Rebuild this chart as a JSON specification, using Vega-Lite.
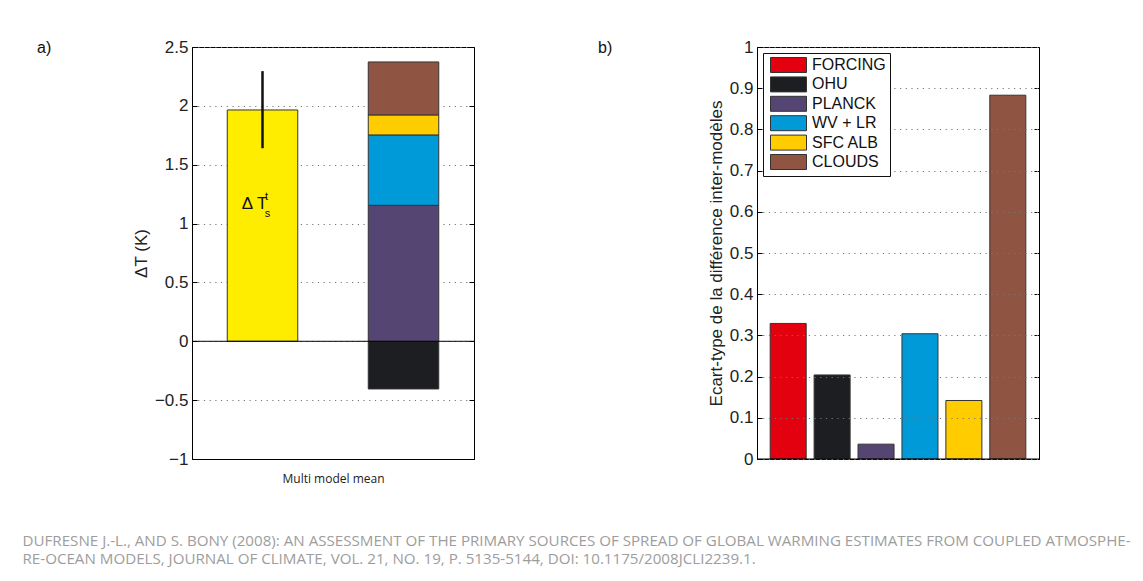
{
  "$schema": "https://vega.github.io/schema/vega-lite/v6.json",
  "background": "white",
  "padding": {"left": 22, "top": 37, "right": 5, "bottom": 5},
  "datasets": {
    "total": [{"group": "ΔTs", "value": 1.965, "low": 1.64, "high": 2.295}],
    "decomp": [
      {"group": "Somme", "component": "OHU", "value": -0.405},
      {"group": "Somme", "component": "PLANCK", "value": 1.155},
      {"group": "Somme", "component": "WV + LR", "value": 0.598},
      {"group": "Somme", "component": "SFC ALB", "value": 0.17},
      {"group": "Somme", "component": "CLOUDS", "value": 0.45}
    ],
    "spread": [
      {"component": "FORCING", "value": 0.329},
      {"component": "OHU", "value": 0.204},
      {"component": "PLANCK", "value": 0.036},
      {"component": "WV + LR", "value": 0.304},
      {"component": "SFC ALB", "value": 0.142},
      {"component": "CLOUDS", "value": 0.883}
    ]
  },
  "title": {
    "text": ["DUFRESNE J.-L., AND S. BONY (2008): AN ASSESSMENT OF THE PRIMARY SOURCES OF SPREAD OF GLOBAL WARMING ESTIMATES FROM COUPLED ATMOSPHE-", "RE-OCEAN MODELS, JOURNAL OF CLIMATE, VOL. 21, NO. 19, P. 5135-5144, DOI: 10.1175/2008JCLI2239.1."],
    "orient": "bottom", "anchor": "start", "frame": "bounds",
    "font": "Open Sans", "fontSize": 15.15, "fontWeight": "normal", "color": "#9d9d9d",
    "lineHeight": 18, "offset": 49, "dx": -14
  },
  "spacing": 122,
  "resolve": {"scale": {"color": "independent"}, "legend": {"color": "independent"}},
  "hconcat": [
    {
      "width": 282, "height": 412,
      "title": {"text": "a)", "anchor": "start", "frame": "group", "dx": -155, "dy": 26, "baseline": "middle", "offset": 0, "fontSize": 16, "fontWeight": "normal", "font": "Liberation Sans", "color": "#111"},
      "resolve": {"axis": {"y": "independent"}},
      "layer": [
        {
          "data": {"name": "total"},
          "mark": {"type": "bar", "color": "#ffed00", "stroke": "#333", "strokeWidth": 1},
          "encoding": {
            "x": {"field": "group", "type": "nominal", "scale": {"domain": ["ΔTs", "Somme"], "paddingInner": 0.5, "paddingOuter": 0.25},
                  "axis": {"labels": false, "ticks": false, "title": "Multi model mean", "titleFont": "Open Sans", "titleFontSize": 12, "titlePadding": 14, "domainColor": "black"}},
            "y": {"field": "value", "type": "quantitative", "title": "ΔT (K)",
                  "scale": {"domain": [-1, 2.5], "nice": false, "zero": false},
                  "axis": {"values": [-1, -0.5, 0, 0.5, 1, 1.5, 2, 2.5], "format": "~g", "grid": true, "titlePadding": 4, "zindex": 0}}
          }
        },
        {
          "data": {"name": "decomp"},
          "mark": {"type": "bar", "stroke": "#333", "strokeWidth": 1},
          "encoding": {
            "x": {"field": "group", "type": "nominal"},
            "y": {"field": "value", "type": "quantitative", "stack": "zero", "axis": null},
            "order": {"field": "group"},
            "color": {"field": "component", "type": "nominal",
                      "sort": ["FORCING", "OHU", "PLANCK", "WV + LR", "SFC ALB", "CLOUDS"],
                      "scale": {"domain": ["FORCING", "OHU", "PLANCK", "WV + LR", "SFC ALB", "CLOUDS"], "range": ["#e3000f", "#1d1e22", "#554573", "#009ad9", "#ffcc00", "#8f5442"]},
                      "legend": null}
          }
        },
        {
          "data": {"name": "total"},
          "mark": {"type": "rule", "color": "#111", "strokeWidth": 2.5},
          "encoding": {
            "x": {"field": "group", "type": "nominal"},
            "y": {"field": "low", "type": "quantitative", "axis": null},
            "y2": {"field": "high"}
          }
        },
        {
          "data": {"values": [{}]},
          "mark": {"type": "rule", "color": "black", "strokeWidth": 1},
          "encoding": {"y": {"datum": 0, "type": "quantitative",
                             "axis": {"orient": "right", "values": [-1, -0.5, 0, 0.5, 1, 1.5, 2, 2.5], "labels": false, "grid": false, "domain": false, "title": null, "tickSize": -5}}}
        },
        {
          "data": {"name": "total"},
          "mark": {"type": "text", "text": "Δ T", "font": "Liberation Sans", "fontSize": 17, "align": "center", "baseline": "middle", "dx": -8, "color": "#111"},
          "encoding": {"x": {"field": "group", "type": "nominal"}, "y": {"datum": 1.166, "type": "quantitative", "axis": null}}
        },
        {
          "data": {"name": "total"},
          "mark": {"type": "text", "text": "t", "font": "Liberation Sans", "fontSize": 11, "align": "center", "baseline": "middle", "dx": 4, "dy": -7, "color": "#111"},
          "encoding": {"x": {"field": "group", "type": "nominal"}, "y": {"datum": 1.166, "type": "quantitative", "axis": null}}
        },
        {
          "data": {"name": "total"},
          "mark": {"type": "text", "text": "s", "font": "Liberation Sans", "fontSize": 11, "align": "center", "baseline": "middle", "dx": 5, "dy": 10, "color": "#111"},
          "encoding": {"x": {"field": "group", "type": "nominal"}, "y": {"datum": 1.166, "type": "quantitative", "axis": null}}
        }
      ]
    },
    {
      "width": 282, "height": 412,
      "title": {"text": "b)", "anchor": "start", "frame": "group", "dx": -159, "dy": 26, "baseline": "middle", "offset": 0, "fontSize": 16, "fontWeight": "normal", "font": "Liberation Sans", "color": "#111"},
      "resolve": {"axis": {"y": "independent"}},
      "layer": [
        {
          "data": {"name": "spread"},
          "mark": {"type": "bar", "stroke": "#333", "strokeWidth": 1},
          "encoding": {
            "x": {"field": "component", "type": "nominal",
                  "sort": ["FORCING", "OHU", "PLANCK", "WV + LR", "SFC ALB", "CLOUDS"],
                  "scale": {"paddingInner": 0.18, "paddingOuter": 0.3},
                  "axis": {"labels": false, "ticks": false, "title": null, "domainColor": "black"}},
            "y": {"field": "value", "type": "quantitative",
                  "scale": {"domain": [0, 1], "nice": false},
                  "axis": {"values": [0, 0.1, 0.2, 0.3, 0.4, 0.5, 0.6, 0.7, 0.8, 0.9, 1], "format": "~g", "grid": true, "title": "Ecart-type de la différence inter-modèles", "titlePadding": 4, "zindex": 1}},
            "color": {"field": "component", "type": "nominal",
                      "sort": ["FORCING", "OHU", "PLANCK", "WV + LR", "SFC ALB", "CLOUDS"],
                      "scale": {"domain": ["FORCING", "OHU", "PLANCK", "WV + LR", "SFC ALB", "CLOUDS"], "range": ["#e3000f", "#1d1e22", "#554573", "#009ad9", "#ffcc00", "#8f5442"]},
                      "legend": {"title": null, "orient": "top-left", "offset": 6, "zindex": 2,
                                 "strokeColor": "#111", "fillColor": "white", "padding": 4, "cornerRadius": 0,
                                 "symbolType": "M-2.4,-1H2.4V1H-2.4Z", "symbolSize": 225, "symbolStrokeColor": "#333", "symbolStrokeWidth": 1, "symbolOpacity": 1,
                                 "symbolOffset": 13.5, "labelOffset": 15.5, "labelFont": "Liberation Sans", "labelFontSize": 16, "labelColor": "#111", "rowPadding": -0.6}}
          }
        },
        {
          "data": {"values": [{}]},
          "mark": {"type": "rule", "color": "black", "strokeWidth": 1},
          "encoding": {"y": {"datum": 0, "type": "quantitative",
                             "axis": {"orient": "right", "values": [0, 0.1, 0.2, 0.3, 0.4, 0.5, 0.6, 0.7, 0.8, 0.9, 1], "labels": false, "grid": false, "domain": false, "title": null, "tickSize": -5}}}
        }
      ]
    }
  ],
  "config": {
    "view": {"stroke": "black", "strokeWidth": 1},
    "axis": {"labelFont": "Liberation Sans", "labelFontSize": 17, "labelColor": "#222", "titleFont": "Liberation Sans", "titleFontSize": 17, "titleFontWeight": "normal", "titleColor": "#222",
             "domainColor": "black", "tickColor": "black", "tickSize": -5, "labelPadding": 9, "gridColor": "#777", "gridDash": [1.2, 4.5], "gridWidth": 1}
  }
}
